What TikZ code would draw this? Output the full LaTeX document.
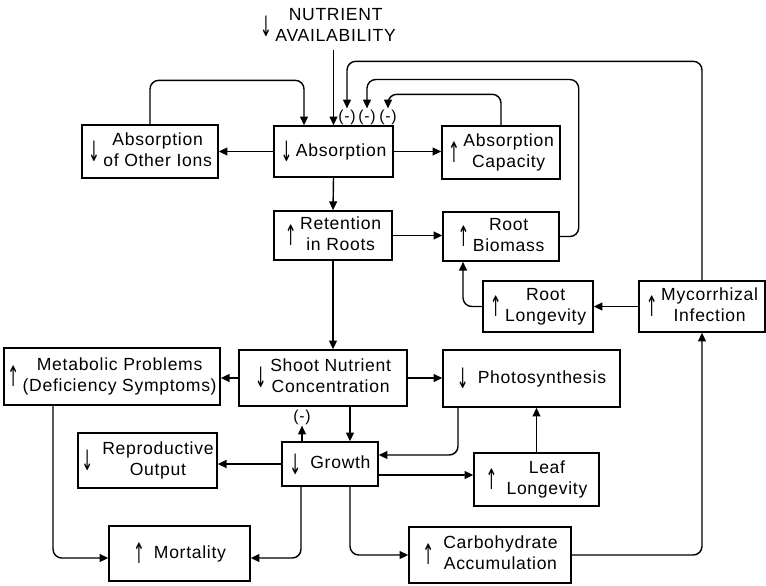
\documentclass[tikz,border=0pt]{standalone}
\usepackage{fontspec}
\setmainfont[LetterSpace=4]{Liberation Sans}
\newfontfamily\arrfont{DejaVu Sans}
\usepackage{graphicx}
\usepackage{tikz}
\usetikzlibrary{arrows.meta}

\tikzset{
	box/.style={draw, line width=0.8pt, inner sep=2pt, align=center},
	arr/.style={line width=0.8pt, -{Triangle[length=5pt,width=4.5pt]}, rounded corners=5pt},
	neglabel/.style={inner sep=0.5pt, font=\small}
}
\newcommand{\uparr}{\raisebox{-3pt}{\scalebox{0.8}[1.6]{\arrfont ↑}}\hspace{2pt}}
\newcommand{\dnarr}{\raisebox{-3pt}{\scalebox{0.8}[1.6]{\arrfont ↓}}\hspace{2pt}}

\begin{document}
\begin{tikzpicture}[x=0.02cm, y=-0.02cm]
	\useasboundingbox (0,0) rectangle (766,585);

	\node[inner sep=1pt] (avail) at (328,27) {\dnarr\begin{tabular}{@{}c@{}}NUTRIENT\\AVAILABILITY\end{tabular}};
	\node[box, minimum width=2.72cm, minimum height=1.06cm] (other) at (150,151.5) {\dnarr\begin{tabular}{@{}c@{}}Absorption\\of Other Ions\end{tabular}};
	\node[box, minimum width=2.38cm, minimum height=1.02cm] (absn) at (333.5,151.5) {\dnarr Absorption};
	\node[box, minimum width=2.36cm, minimum height=1.06cm] (cap) at (501,152.5) {\uparr\begin{tabular}{@{}c@{}}Absorption\\Capacity\end{tabular}};
	\node[box, minimum width=2.36cm, minimum height=0.98cm] (ret) at (333,235.5) {\uparr\begin{tabular}{@{}c@{}}Retention\\in Roots\end{tabular}};
	\node[box, minimum width=2.32cm, minimum height=0.98cm] (biom) at (501,236.5) {\uparr\begin{tabular}{@{}c@{}}Root\\Biomass\end{tabular}};
	\node[box, minimum width=2.2cm, minimum height=1.02cm] (rlong) at (538,306.5) {\uparr\begin{tabular}{@{}c@{}}Root\\Longevity\end{tabular}};
	\node[box, minimum width=2.52cm, minimum height=1.02cm] (myco) at (702,306.5) {\uparr\begin{tabular}{@{}c@{}}Mycorrhizal\\Infection\end{tabular}};
	\node[box, minimum width=4.2cm, minimum height=1.14cm] (meta) at (112,376.5) {\uparr\begin{tabular}{@{}c@{}}Metabolic Problems\\(Deficiency Symptoms)\end{tabular}};
	\node[box, minimum width=3.36cm, minimum height=1.12cm] (shoot) at (323,378) {\dnarr\begin{tabular}{@{}c@{}}Shoot Nutrient\\Concentration\end{tabular}};
	\node[box, minimum width=3.54cm, minimum height=1.14cm] (photo) at (531.5,378.5) {\dnarr\ Photosynthesis};
	\node[box, minimum width=2.78cm, minimum height=1.1cm] (repro) at (147.5,460.5) {\dnarr\ \begin{tabular}{@{}c@{}}Reproductive\\Output\end{tabular}};
	\node[box, minimum width=1.92cm, minimum height=0.88cm] (growth) at (330,464) {\dnarr\ Growth};
	\node[box, minimum width=2.5cm, minimum height=1.06cm] (leaf) at (536.5,479.5) {\uparr\ \begin{tabular}{@{}c@{}}Leaf\\Longevity\end{tabular}};
	\node[box, minimum width=2.82cm, minimum height=1.1cm] (mort) at (179.5,553.5) {\uparr\ Mortality};
	\node[box, minimum width=3.24cm, minimum height=1.12cm] (carb) at (490,555) {\uparr\ \begin{tabular}{@{}c@{}}Carbohydrate\\Accumulation\end{tabular}};

	\node[neglabel] (m1) at (347,117) {(-)};
	\node[neglabel] (m2) at (367,117) {(-)};
	\node[neglabel] (m3) at (388,117) {(-)};
	\node[neglabel] (neg) at (302,417) {(-)};

	\draw[arr] (absn.north |- avail.south) -- (absn.north);
	\draw[arr] (absn.west) -- (other.east);
	\draw[arr] (other.north) |- ([xshift=-0.59cm,yshift=0.9cm]absn.north) -- ([xshift=-0.59cm]absn.north);
	\draw[arr] (absn.east) -- (absn.east -| cap.west);
	\draw[arr] (absn.south) -- (ret.north);
	\draw[arr] (ret.east) -- (ret.east -| biom.west);
	\draw[arr] (ret.south) -- (ret.south |- shoot.north);

	\draw[arr] (myco.north) -- ++(0,-219) -| (m1.north);
	\draw[arr] (biom.east) -- ++(19,0) -- ++(0,-157) -| (m2.north);
	\draw[arr] (cap.north) -- ++(0,-31) -| (m3.north);

	\draw[arr] (myco.west) -- (rlong.east);
	\draw[arr] (rlong.west) -| ([xshift=-0.76cm]biom.south);
	\draw[arr] (shoot.west) -- (shoot.west -| meta.east);
	\draw[arr] (shoot.east) -- (shoot.east -| photo.west);
	\draw[arr] ([xshift=0.54cm]shoot.south) coordinate (s1) -- (s1 |- growth.north);
	\draw[arr] (growth.north -| neg) -- (neg.south);
	\draw[arr] (growth.west) -- (growth.west -| repro.east);
	\draw[arr] ([xshift=-1.47cm]photo.south) |- ([yshift=0.18cm]growth.east);
	\draw[arr] ([yshift=-0.22cm]growth.east) coordinate (g1) -- (g1 -| leaf.west);
	\draw[arr] (leaf.north) -- (leaf.north |- photo.south);
	\draw[arr] ([xshift=-1.18cm]meta.south) |- ([yshift=-0.09cm]mort.west);
	\draw[arr] ([xshift=-0.58cm]growth.south) |- ([yshift=-0.09cm]mort.east);
	\draw[arr] ([xshift=0.4cm]growth.south) |- (carb.west);
	\draw[arr] (carb.east) -| (myco.south);
\end{tikzpicture}
\end{document}
